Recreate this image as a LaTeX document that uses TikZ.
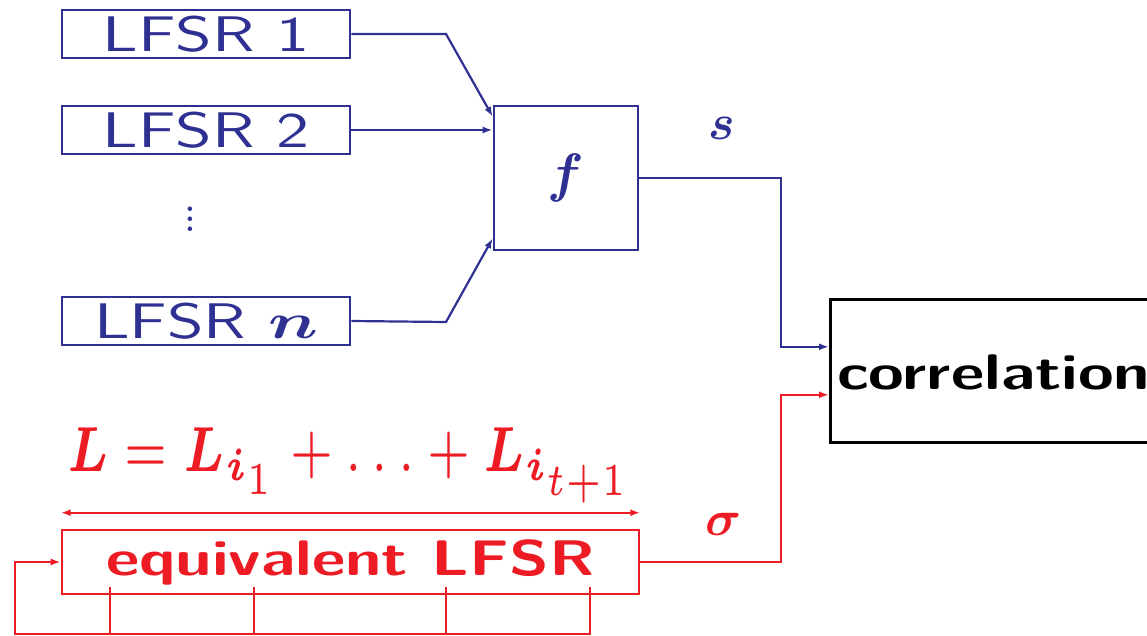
\RequirePackage{fix-cm}
\documentclass[tikz,border=0pt]{standalone}
\usepackage{amsmath,bm}
\usetikzlibrary{arrows.meta}
\definecolor{myblue}{RGB}{46,49,146}
\definecolor{myred}{RGB}{237,28,36}
\newcommand{\xwide}[1]{\scalebox{1.3}[1]{#1}}
\newcommand{\lwide}[1]{\scalebox{1.4}[1]{#1}}
\tikzset{
  bigtxt/.style={font=\fontsize{50}{50}\selectfont\sffamily},
  lfsrbox/.style={draw=myblue, line width=2.6pt, minimum width=288pt, minimum height=48pt, inner sep=0pt, text=myblue, bigtxt},
  fbox/.style={draw=myblue, line width=2.6pt, minimum width=144pt, minimum height=144pt, inner sep=0pt, text=myblue, font=\fontsize{54}{54}\selectfont},
  eqbox/.style={draw=myred, line width=2.6pt, minimum width=577pt, minimum height=64pt, inner sep=0pt, text=myred, font=\fontsize{50}{50}\selectfont\sffamily\bfseries},
  corrbox/.style={draw=black, line width=2.6pt, minimum width=340pt, minimum height=143pt, inner sep=0pt},
  bconn/.style={draw=myblue, line width=2.2pt},
  rconn/.style={draw=myred, line width=2.2pt},
  tip/.style={-{Latex[length=10pt,width=7pt]}},
  mlabel/.style={inner sep=0pt, font=\fontsize{50}{50}\selectfont},
}
\begin{document}
\begin{tikzpicture}[x=1pt,y=-1pt]
\useasboundingbox (0,0) rectangle (1147,636);
\clip (0,0) rectangle (1147,636);
% blue part
\node[lfsrbox] (l1) at (206,34) {\lwide{LFSR 1}};
\node[lfsrbox] (l2) at (206,130) {\lwide{LFSR 2}};
\node[lfsrbox] (ln) at (206,321) {\lwide{LFSR $\bm{n}$}};
\node[text=myblue, inner sep=0pt] (vd) at (190,212) {\scalebox{2.5}{\fontsize{22}{22}\selectfont$\vdots$}};
\node[fbox] (f) at (566,178) {$\bm{f}$};
\node[corrbox, anchor=north west] (corr) at (829,298) {};
\node[anchor=west, inner sep=0pt, font=\fontsize{50}{50}\selectfont\sffamily\bfseries] (corrtxt) at (837,372) {\xwide{correlation}};
\node[mlabel, text=myblue] (s) at (722,128) {$\bm{s}$};
\coordinate (b1) at (446,34);
\coordinate (bn) at (446,322);
\coordinate (sb) at (781,178);
\draw[bconn, tip] (l1.east) -- (b1) -- ([yshift=-12pt]f.north west);
\draw[bconn, tip] (l2.east) -- (l2.east -| f.west);
\draw[bconn, tip] (ln.east) -- (bn) -- ([yshift=13pt]f.south west);
\draw[bconn, tip] (f.east) -- (sb) |- ([yshift=24pt]corr.west);
% red part
\node[eqbox] (eq) at (350.5,562) {\xwide{equivalent LFSR}};
\node[inner sep=0pt, text=myred, anchor=base west] (len) at (67,471) {\scalebox{1}[1.3]{\resizebox{565pt}{!}{\fontsize{7}{8}\selectfont$\bm{L} = \bm{L}_{\bm{i}_1} + \ldots + \bm{L}_{\bm{i}_{t+1}}$}}};
\node[mlabel, text=myred] (sig) at (724,524) {$\bm{\sigma}$};
\draw[rconn, {Latex[length=10pt,width=7pt]}-{Latex[length=10pt,width=7pt]}] ([yshift=16pt]eq.north west) -- ([yshift=16pt]eq.north east);
\coordinate (rb) at (781,562);
\draw[rconn, tip] (eq.east) -- (rb) |- ([yshift=-24pt]corr.west);
\coordinate (t1) at (110,587);
\coordinate (t2) at (254,587);
\coordinate (t3) at (446,587);
\coordinate (t4) at (590,587);
\coordinate (fb) at (15,634);
\draw[rconn, tip] (t4) -- (t4 |- fb) -- (fb) |- (eq.west);
\draw[rconn] (t1) -- (t1 |- fb);
\draw[rconn] (t2) -- (t2 |- fb);
\draw[rconn] (t3) -- (t3 |- fb);
\end{tikzpicture}
\end{document}
